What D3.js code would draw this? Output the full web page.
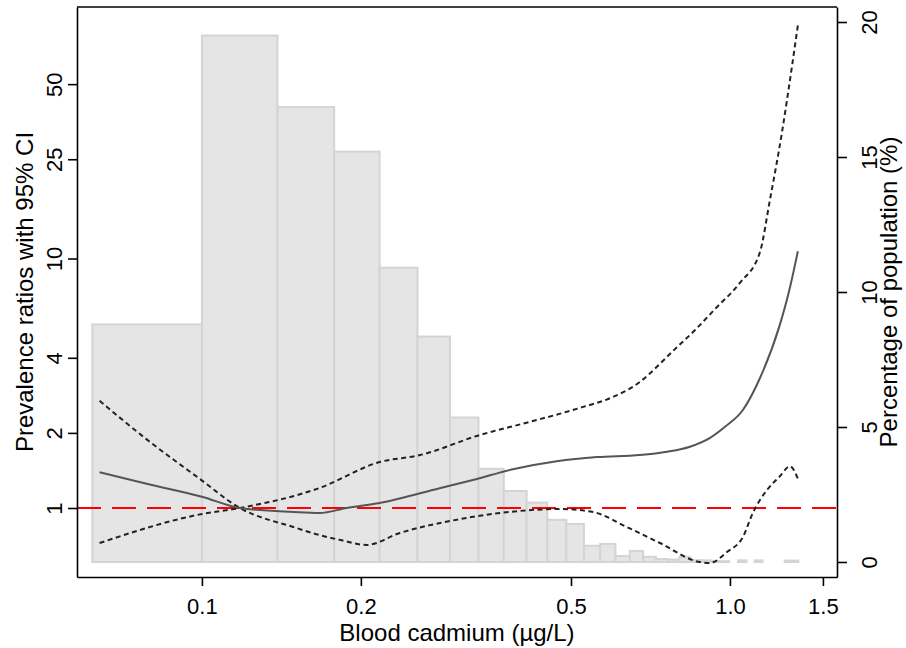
<!DOCTYPE html>
<html>
<head>
<meta charset="utf-8">
<script src="https://cdn.jsdelivr.net/npm/d3@7"></script>
<style>
  body { margin: 0; background: #fff; }
  text { font-family: Arial, "Liberation Sans", sans-serif; fill: #000; }
</style>
</head>
<body>
<div class="diagram"></div>
<script>
// histogram of blood cadmium (% of population, right axis)
const binLo = [0.062, 0.1, 0.139, 0.178, 0.217, 0.256, 0.295, 0.334, 0.373, 0.412, 0.451, 0.49, 0.529,
               0.568, 0.607, 0.646, 0.685, 0.724, 0.763, 0.802, 0.841, 0.88, 0.919, 0.958, 1.036, 1.114, 1.27, 1.309];
const binHi = [0.1, 0.139, 0.178, 0.217, 0.256, 0.295, 0.334, 0.373, 0.412, 0.451, 0.49, 0.529, 0.568,
               0.607, 0.646, 0.685, 0.724, 0.763, 0.802, 0.841, 0.88, 0.919, 0.958, 0.997, 1.075, 1.153, 1.309, 1.348];
const pct = [8.8, 19.5, 16.85, 15.2, 10.9, 8.35, 5.35, 3.45, 2.63, 2.2, 1.56, 1.41, 0.6,
             0.67, 0.22, 0.41, 0.19, 0.11, 0.09, 0.19, 0.07, 0.06, 0.04, 0.03, 0.06, 0.06, 0.05, 0.05];

// prevalence ratio curve (solid) and the two 95% CI bounds (dashed)
const estX  = [0.064, 0.08, 0.1, 0.118, 0.149, 0.167, 0.188, 0.217, 0.282, 0.326, 0.388, 0.47, 0.56,
               0.675, 0.76, 0.84, 0.917, 0.98, 1.058, 1.14, 1.243, 1.293, 1.345];
const estPR = [1.39, 1.24, 1.11, 1.0, 0.964, 0.955, 1.0, 1.047, 1.2, 1.295, 1.43, 1.54, 1.6,
               1.63, 1.68, 1.76, 1.91, 2.12, 2.47, 3.32, 5.42, 7.34, 10.7];
const ciAX  = [0.064, 0.0787, 0.099, 0.118, 0.149, 0.167, 0.183, 0.205, 0.237, 0.295, 0.367, 0.477,
               0.55, 0.638, 0.737, 0.877, 0.917, 0.987, 1.058, 1.105, 1.175, 1.243, 1.299, 1.345];
const ciAPR = [2.69, 1.88, 1.31, 1.0, 0.839, 0.779, 0.744, 0.711, 0.794, 0.887, 0.955, 0.991,
               0.964, 0.839, 0.724, 0.607, 0.602, 0.666, 0.765, 0.955, 1.18, 1.34, 1.47, 1.31];
const ciBX  = [0.064, 0.1, 0.118, 0.167, 0.217, 0.259, 0.336, 0.417, 0.519, 0.6, 0.675, 0.706,
               0.78, 0.859, 0.944, 1.044, 1.14, 1.19, 1.254, 1.31, 1.345];
const ciBPR = [0.724, 0.946, 1.0, 1.203, 1.528, 1.63, 1.962, 2.212, 2.517, 2.785, 3.2, 3.47,
               4.26, 5.17, 6.38, 7.98, 10.62, 17.1, 31.8, 58.5, 86.3];

const xTicks = [0.1, 0.2, 0.5, 1.0, 1.5],
      xTickLabels = ["0.1", "0.2", "0.5", "1.0", "1.5"],
      prTicks = [1, 2, 4, 10, 25, 50],
      pctTicks = [0, 5, 10, 15, 20];

const W = 906, H = 648,
      pLeft = 77, pRight = 837, pTop = 7, pBottom = 577;

const svg = d3.select(".diagram")
  .append("svg")
  .attr("width", W)
  .attr("height", H);

const xScale = d3.scaleLog().domain([0.058, 1.595]).range([pLeft, pRight]);
const yPR = d3.scaleLog().domain([0.529, 101.9]).range([pBottom, pTop]);
const yPct = d3.scaleLinear().domain([-0.556, 20.556]).range([pBottom, pTop]);

const bins = pct.map((p, i) => ({lo: binLo[i], hi: binHi[i], p: p}));

svg.selectAll("rect.bar")
  .data(bins)
  .enter()
  .append("rect")
  .attr("class", "bar")
  .attr("x", (d) => xScale(d.lo))
  .attr("y", (d) => yPct(d.p))
  .attr("width", (d) => xScale(d.hi) - xScale(d.lo))
  .attr("height", (d) => yPct(0) - yPct(d.p))
  .attr("fill", "#e5e5e5")
  .attr("stroke", "#d4d4d4")
  .attr("stroke-width", 2);

// reference line at PR = 1
svg.append("line")
  .attr("x1", pLeft)
  .attr("x2", pRight)
  .attr("y1", yPR(1))
  .attr("y2", yPR(1))
  .attr("stroke", "#ff0000")
  .attr("stroke-width", 2)
  .attr("stroke-dasharray", "24,11");

const line = d3.line()
  .x((d) => xScale(d[0]))
  .y((d) => yPR(d[1]))
  .curve(d3.curveMonotoneX);

svg.append("path")
  .datum(ciAX.map((x, i) => [x, ciAPR[i]]))
  .attr("d", line)
  .attr("fill", "none")
  .attr("stroke", "#222")
  .attr("stroke-width", 2)
  .attr("stroke-dasharray", "5,3.5");

svg.append("path")
  .datum(ciBX.map((x, i) => [x, ciBPR[i]]))
  .attr("d", line)
  .attr("fill", "none")
  .attr("stroke", "#222")
  .attr("stroke-width", 2)
  .attr("stroke-dasharray", "5,3.5");

svg.append("path")
  .datum(estX.map((x, i) => [x, estPR[i]]))
  .attr("d", line)
  .attr("fill", "none")
  .attr("stroke", "#555")
  .attr("stroke-width", 2);

// axes
const xAxis = d3.axisBottom(xScale)
  .tickValues(xTicks)
  .tickFormat((d, i) => xTickLabels[i])
  .tickSize(9)
  .tickSizeOuter(0);
const gx = svg.append("g")
  .attr("transform", "translate(0," + pBottom + ")")
  .call(xAxis);
gx.selectAll("text")
  .attr("y", 37)
  .attr("dy", 0)
  .style("font-size", "22px");

const yAxis = d3.axisLeft(yPR)
  .tickValues(prTicks)
  .tickFormat(d3.format("d"))
  .tickSize(9)
  .tickSizeOuter(0);
const gy = svg.append("g")
  .attr("transform", "translate(" + pLeft + ",0)")
  .call(yAxis);
gy.selectAll("text")
  .attr("transform", "rotate(-90)")
  .attr("x", 0)
  .attr("y", -15)
  .attr("dy", 0)
  .attr("text-anchor", "middle")
  .style("font-size", "22px");

const y2Axis = d3.axisRight(yPct)
  .tickValues(pctTicks)
  .tickFormat(d3.format("d"))
  .tickSize(10)
  .tickSizeOuter(0);
const gy2 = svg.append("g")
  .attr("transform", "translate(" + pRight + ",0)")
  .call(y2Axis);
gy2.selectAll("text")
  .attr("transform", "rotate(-90)")
  .attr("x", 0)
  .attr("y", 40)
  .attr("dy", 0)
  .attr("text-anchor", "middle")
  .style("font-size", "22px");

svg.selectAll(".domain, .tick line")
  .attr("stroke", "#000")
  .attr("stroke-width", 1.6);

// top edge of the frame
svg.append("line")
  .attr("x1", pLeft)
  .attr("x2", pRight)
  .attr("y1", pTop)
  .attr("y2", pTop)
  .attr("stroke", "#000")
  .attr("stroke-width", 1.6);

// titles
svg.append("text")
  .attr("x", (pLeft + pRight) / 2)
  .attr("y", 641)
  .attr("text-anchor", "middle")
  .style("font-size", "24px")
  .text("Blood cadmium (µg/L)");

svg.append("text")
  .attr("transform", "translate(33," + (pTop + pBottom) / 2 + ") rotate(-90)")
  .attr("text-anchor", "middle")
  .style("font-size", "24px")
  .text("Prevalence ratios with 95% CI");

svg.append("text")
  .attr("transform", "translate(897," + (pTop + pBottom) / 2 + ") rotate(-90)")
  .attr("text-anchor", "middle")
  .style("font-size", "24px")
  .text("Percentage of population (%)");
</script>
</body>
</html>
